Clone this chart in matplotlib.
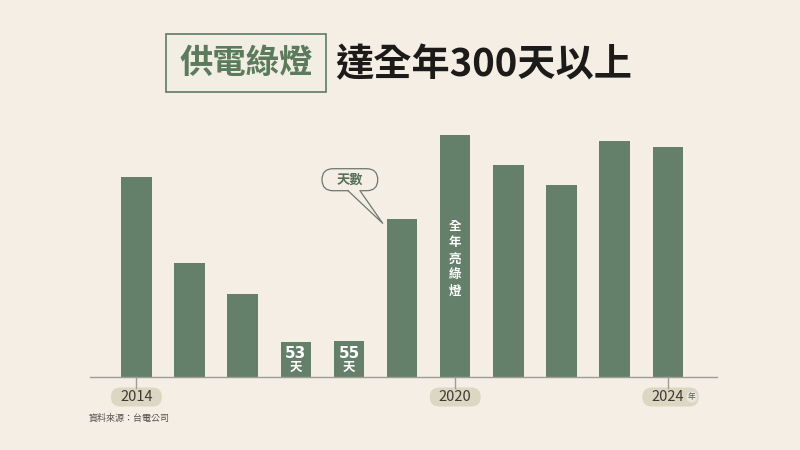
import matplotlib.pyplot as plt
from matplotlib.patches import FancyBboxPatch, Polygon, Circle
from matplotlib.lines import Line2D
from matplotlib.transforms import Affine2D

# data (days with green light per year)
years = list(range(2014, 2025))
days = [302, 172, 125, 53, 55, 238, 366, 320, 290, 357, 347]
labeled_years = [2014, 2020, 2024]
small_labels = {2017: '53', 2018: '55'}
full_year = 2020

BG = '#f4eee5'
GREEN = '#65806a'
CJK = ['Noto Sans CJK TC', 'DejaVu Sans']
NARROW = ['Liberation Sans Narrow', 'Noto Sans CJK TC', 'DejaVu Sans']

plt.rcParams['font.family'] = CJK

fig = plt.figure(figsize=(8, 4.5), dpi=100, facecolor=BG)
# pixel coordinates, origin top-left
px = Affine2D().scale(1 / 800, -1 / 450).translate(0, 1) + fig.transFigure

ax = fig.add_axes([90 / 800, 73 / 450, 626.7 / 800, 400 * 0.662 / 450])
ax.set_facecolor(BG)
x = list(range(len(years)))
ax.bar(x, days, width=0.574, color=GREEN, zorder=2)
ax.set_xlim(-0.873, 10.92)
ax.set_ylim(0, 400)
for s in ['top', 'left', 'right']:
    ax.spines[s].set_visible(False)
ax.spines['bottom'].set_color('#a09d94')
ax.spines['bottom'].set_linewidth(1.0)
ax.set_xticks([])
ax.set_yticks([])


def x_px(i):
    disp = ax.transData.transform((i, 0))
    return fig.transFigure.inverted().transform(disp)[0] * 800


# year pills below the axis
for yr in labeled_years:
    i = years.index(yr)
    cx = x_px(i)
    last = yr == years[-1]
    right = cx + (31 if last else 25.5)
    fig.add_artist(Line2D([cx, cx], [377, 388], color='#a09d94', lw=1.0, transform=px))
    pill = FancyBboxPatch((cx - 25.5 + 9.5, 387.5 + 9.5), right - cx + 25.5 - 19, 0,
                          boxstyle='round,pad=9.5', fc='#dcd7c2', ec='none', transform=px)
    fig.add_artist(pill)
    fig.text(cx, 397, str(yr), transform=px, ha='center', va='center',
             fontsize=10.5, color='#3d3a35', family=NARROW)
    if last:
        fig.add_artist(Circle((cx + 24, 397), 5.5, fc='#ebe7db', ec='none', transform=px))
        fig.text(cx + 24, 397.3, '年', transform=px, ha='center', va='center',
                 fontsize=5.5, color='#5a5a55')

# labels inside the two short bars
for yr, txt in small_labels.items():
    i = years.index(yr)
    ax.annotate(txt, xy=(i, 0), xytext=(0, 17), textcoords='offset points',
                ha='center', va='center', fontsize=11, fontweight='bold',
                color='white', family=['DejaVu Sans'], zorder=3)
    ax.annotate('天', xy=(i, 0), xytext=(0, 7), textcoords='offset points',
                ha='center', va='center', fontsize=9, fontweight='bold',
                color='white', zorder=3)

# vertical text in the full-year bar
i = years.index(full_year)
ax.annotate('\n'.join('全年亮綠燈'), xy=(i, 0), xytext=(0, 85), textcoords='offset points',
            ha='center', va='center', fontsize=9, fontweight='bold', color='white',
            linespacing=1.3, zorder=3)

# speech balloon
fig.add_artist(FancyBboxPatch((322 + 11, 168.7 + 11), 55.7 - 22, 22 - 22,
                              boxstyle='round,pad=11', fc=BG, ec='#6f776f', lw=0.9,
                              transform=px, zorder=4))
fig.add_artist(Polygon([(348, 190), (360, 190), (382.7, 223.3)], closed=True,
                       fc=BG, ec='none', transform=px, zorder=5))
fig.add_artist(Line2D([348, 382.7, 360], [190.7, 223.3, 190.7], color='#6f776f',
                      lw=0.9, transform=px, zorder=6))
fig.text(349.8, 180, '天數', transform=px, ha='center', va='center',
         fontsize=9.5, fontweight='bold', color='#55705a', zorder=7)

# title
fig.add_artist(FancyBboxPatch((166, 34), 159.7, 58, boxstyle='square,pad=0',
                              fc='#f2eee3', ec='#5f7a63', lw=1.2, transform=px))
fig.text(246, 64, '供電綠燈', transform=px, ha='center', va='center',
         fontsize=24, fontweight='bold', color='#5b7b5c')
fig.text(335, 65, '達全年300天以上', transform=px, ha='left', va='center',
         fontsize=27.5, fontweight='heavy', color='#1d1b19')

# source
fig.text(89, 418, '資料來源：台電公司', transform=px, ha='left', va='center',
         fontsize=6.5, color='#55524c')

fig.savefig('out.png', dpi=100, facecolor=BG)
